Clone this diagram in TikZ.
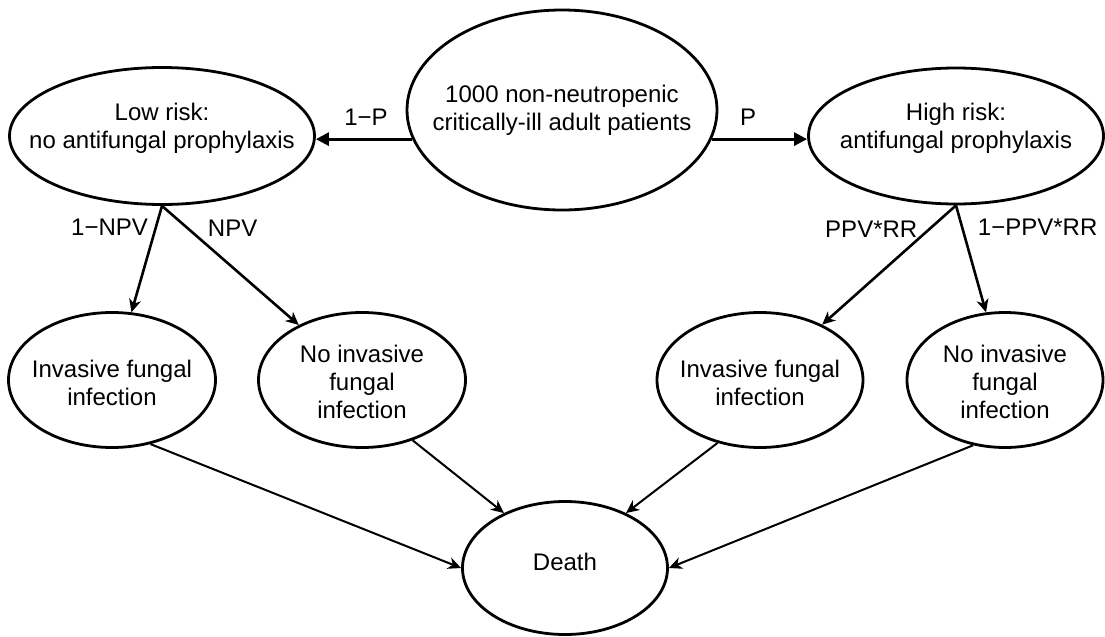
\documentclass[tikz,border=0pt]{standalone}
\usepackage{fontspec}
\setmainfont{Liberation Sans}
\usetikzlibrary{shapes.geometric,arrows.meta}

\begin{document}
\begin{tikzpicture}[x=.5pt,y=-.5pt,
    state/.style={ellipse,draw,line width=1.4pt,inner sep=0pt},
    txt/.style={align=center,font=\fontsize{12}{14}\selectfont},
    split/.style={line width=1.4pt,-{Triangle[length=6.5pt,width=6.5pt]}},
    branch/.style={line width=1.3pt,-{Stealth[length=6.5pt,width=6pt,inset=2pt]}},
    outcome/.style={line width=1pt,-{Stealth[length=6.5pt,width=6pt,inset=2pt]}},
    prob/.style={font=\fontsize{12}{14}\selectfont}]
            \useasboundingbox (0,0) rectangle (1105,637);
            \draw (562,110) node[state,minimum width=155pt,minimum height=100pt,
             label={[txt]center:{1000 non-neutropenic\\critically-ill adult patients}}] (pop) {};
            \draw (162,136) node[state,minimum width=152.5pt,minimum height=68.5pt,
             label={[txt,yshift=4pt]center:{Low risk:\\no antifungal prophylaxis}}] (low) {};
            \draw (956,136) node[state,minimum width=147.5pt,minimum height=68pt,
             label={[txt,yshift=4pt]center:{High risk:\\antifungal prophylaxis}}] (high) {};
            \draw (112,380) node[state,minimum width=103.5pt,minimum height=67.5pt,
             label={[txt,yshift=-1.5pt]center:{Invasive fungal\\infection}}] (ifiL) {};
            \draw (362,380) node[state,minimum width=103.5pt,minimum height=67.5pt,
             label={[txt,yshift=-1pt]center:{No invasive\\fungal\\infection}}] (nifiL) {};
            \draw (760,380) node[state,minimum width=103pt,minimum height=67.5pt,
             label={[txt,yshift=-1.5pt]center:{Invasive fungal\\infection}}] (ifiH) {};
            \draw (1005,380) node[state,minimum width=98pt,minimum height=67.5pt,
             label={[txt,yshift=-1pt]center:{No invasive\\fungal\\infection}}] (nifiH) {};
            \draw (565,568) node[state,minimum width=102.5pt,minimum height=66.5pt,
             label={[txt,yshift=3pt]center:Death}] (death) {};
            \draw[split] (pop.191.5)--(pop.191.5 -| low.east)
             node[prob,above=3pt,pos=.48] {1−P};
            \draw[split] (pop.-11.5)--(pop.-11.5 -| high.west)
             node[prob,above=3pt,pos=.38] {P};
            \draw[branch] (low.south)--(ifiL)
             node[prob,left,pos=.2] {1−NPV};
            \draw[branch] (low.south)--(nifiL)
             node[prob,right=6pt,pos=.19] {NPV};
            \draw[branch] (high.south)--(ifiH)
             node[prob,left=2pt,pos=.2] {PPV*RR};
            \draw[branch] (high.south)--(nifiH)
             node[prob,right=4pt,pos=.2] {1−PPV*RR};
            \draw[outcome] (ifiL.-59)--(death.west);
            \draw[outcome] (nifiL.-50)--(death.138);
            \draw[outcome] (ifiH.236)--(death.42);
            \draw[outcome] (nifiH.244)--(death.east);
        \end{tikzpicture}
\end{document}
